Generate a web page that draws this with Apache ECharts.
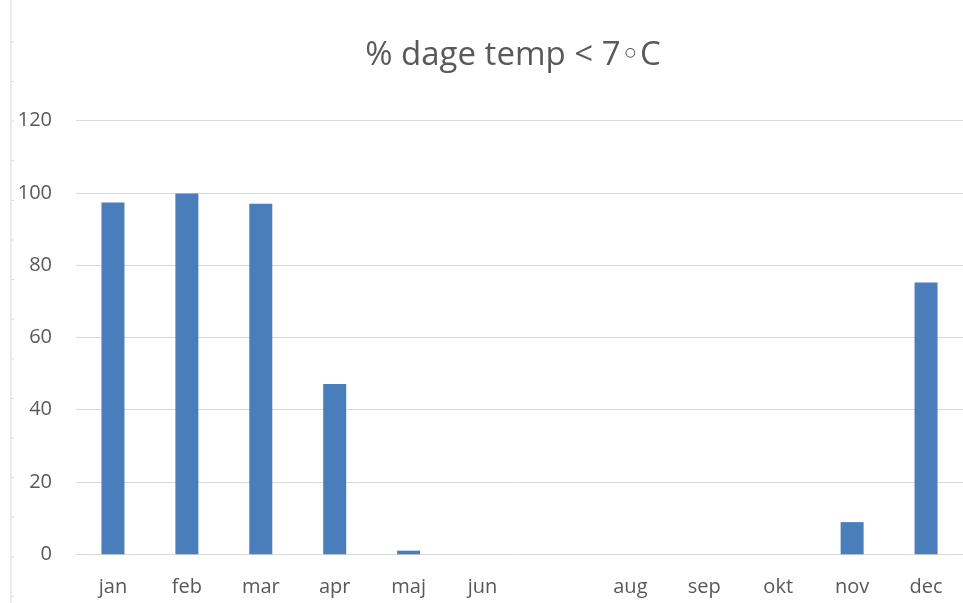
<!DOCTYPE html>
<html>
<head>
<meta charset="utf-8">
<title>% dage temp &lt; 7◦C</title>
<script src="https://cdn.jsdelivr.net/npm/echarts@6/dist/echarts.min.js"></script>
<style>
  html, body { margin: 0; padding: 0; background: #ffffff; }
  #chart { width: 963px; height: 603px; }
</style>
</head>
<body>
<div id="chart"></div>
<script>
// Month labels (July has no label on the axis)
const months = ['jan', 'feb', 'mar', 'apr', 'maj', 'jun', '', 'aug', 'sep', 'okt', 'nov', 'dec'];
// Percentage of days with temperature below 7 °C
const pctDays = [97.3, 99.8, 97, 47.1, 1, 0, 0, 0, 0, 0, 8.9, 75.2];
// Value axis ticks
const yTicks = [0, 20, 40, 60, 80, 100, 120];

const textColor = '#595959';
const gridColor = '#d9d9d9';
const font = '"Open Sans", "DejaVu Sans", sans-serif';

const chart = echarts.init(document.getElementById('chart'), null, { renderer: 'canvas' });

// Frame edge with small tick marks along the left side
const frameTicks = [];
for (let y = 42; y < 603; y += 39.6) {
  frameTicks.push({
    type: 'line',
    shape: { x1: 11, y1: y, x2: 14, y2: y },
    style: { stroke: gridColor, lineWidth: 1 },
    silent: true
  });
}

chart.setOption({
  animation: false,
  backgroundColor: '#ffffff',
  title: {
    text: '% dage temp < 7◦C',
    left: 508,
    top: 34,
    textAlign: 'center',
    textStyle: { color: textColor, fontSize: 33, fontWeight: 'normal', fontFamily: font }
  },
  graphic: [
    {
      type: 'line',
      shape: { x1: 11, y1: 0, x2: 11, y2: 603 },
      style: { stroke: gridColor, lineWidth: 1 },
      silent: true
    }
  ].concat(frameTicks),
  grid: { left: 76, top: 120.5, width: 892, height: 433.8, containLabel: false },
  xAxis: {
    type: 'category',
    data: months,
    axisLine: { show: true, lineStyle: { color: gridColor, width: 1 } },
    axisTick: { show: false },
    axisLabel: { color: textColor, fontSize: 20, fontFamily: font, margin: 23, interval: 0 }
  },
  yAxis: {
    type: 'value',
    min: yTicks[0],
    max: yTicks[yTicks.length - 1],
    interval: yTicks[1] - yTicks[0],
    axisLine: { show: false },
    axisTick: { show: false },
    splitLine: { lineStyle: { color: gridColor, width: 1 } },
    axisLabel: { color: textColor, fontSize: 20, fontFamily: font, margin: 24 }
  },
  series: [{
    type: 'bar',
    data: pctDays,
    barWidth: 23,
    itemStyle: { color: '#4a7ebb' }
  }]
});
</script>
</body>
</html>
